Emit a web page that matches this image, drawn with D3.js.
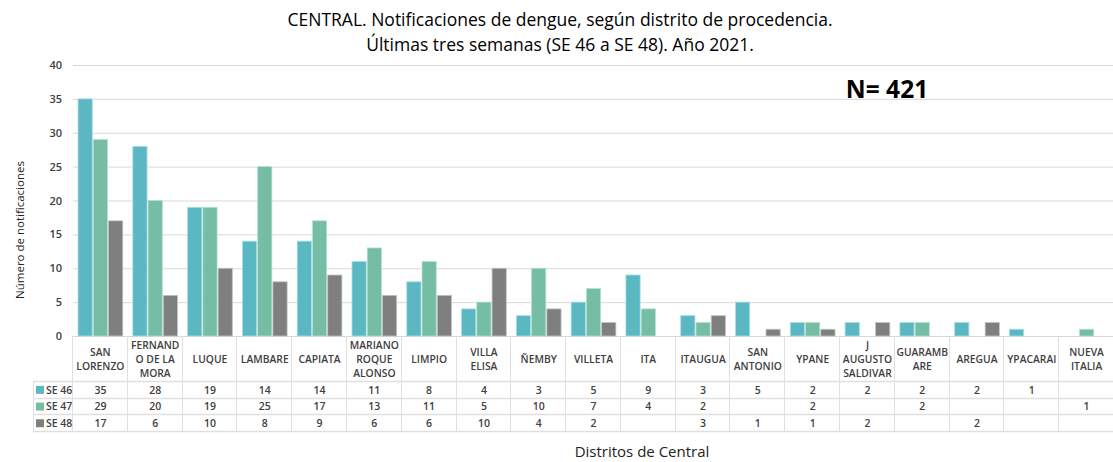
<!DOCTYPE html>
<html>
<head>
<meta charset="utf-8">
<script src="https://cdn.jsdelivr.net/npm/d3@7"></script>
<style>
  body { margin: 0; background: #fff; }
  svg { display: block; font-family: "Open Sans", "Noto Sans", sans-serif; }
</style>
</head>
<body>
<svg id="chart" width="1113" height="462"></svg>
<script>
// districts (header text already broken in lines like the original)
var districts = [
  ["SAN", "LORENZO"], ["FERNAND", "O DE LA", "MORA"], ["LUQUE"], ["LAMBARE"], ["CAPIATA"],
  ["MARIANO", "ROQUE", "ALONSO"], ["LIMPIO"], ["VILLA", "ELISA"], ["ÑEMBY"], ["VILLETA"],
  ["ITA"], ["ITAUGUA"], ["SAN", "ANTONIO"], ["YPANE"], ["J", "AUGUSTO", "SALDIVAR"],
  ["GUARAMB", "ARE"], ["AREGUA"], ["YPACARAI"], ["NUEVA", "ITALIA"]
];
var seriesNames = ["SE 46", "SE 47", "SE 48"];
var se46 = [35, 28, 19, 14, 14, 11, 8, 4, 3, 5, 9, 3, 5, 2, 2, 2, 2, 1, null];
var se47 = [29, 20, 19, 25, 17, 13, 11, 5, 10, 7, 4, 2, null, 2, null, 2, null, null, 1];
var se48 = [17, 6, 10, 8, 9, 6, 6, 10, 4, 2, null, 3, 1, 1, 2, null, 2, null, null];
var yTicks = [0, 5, 10, 15, 20, 25, 30, 35, 40];
var colors = ["#5bb7c2", "#75bda5", "#7f7f7f"];
var strokes = ["#a9e0e6", "#b3e2d1", "#c4c4c4"];

var values = [se46, se47, se48];
var svg = d3.select("#chart");

var left = 73, right = 1114, yTop = 65, yZero = 336;

var x = d3.scaleBand()
  .domain(d3.range(districts.length))
  .range([left, right])
  .paddingInner(0).paddingOuter(0);

var xs = d3.scaleBand()
  .domain(d3.range(3))
  .range([0, x.bandwidth()])
  .paddingOuter(0.33).paddingInner(0.067);

var y = d3.scaleLinear().domain([0, 40]).range([yZero, yTop]);

// gridlines
svg.append("g")
  .selectAll("line").data(yTicks).enter().append("line")
  .attr("x1", left).attr("x2", right)
  .attr("y1", function(d) { return y(d) + 0.5; })
  .attr("y2", function(d) { return y(d) + 0.5; })
  .attr("stroke", "#d9d9d9").attr("stroke-width", 1);

// y axis (labels only)
var yAxis = d3.axisLeft(y).tickValues(yTicks).tickSize(0).tickPadding(11);
var gy = svg.append("g").attr("transform", "translate(" + left + ",0)").call(yAxis);
gy.select(".domain").remove();
gy.selectAll("text")
  .attr("font-size", 11).attr("font-weight", 600).attr("fill", "#404040")
  .attr("font-family", "'Open Sans', sans-serif");

// bars
var groups = svg.append("g").selectAll("g").data(districts).enter().append("g")
  .attr("transform", function(d, i) { return "translate(" + x(i) + ",0)"; });

groups.selectAll("rect")
  .data(function(d, i) {
    return values.map(function(s, k) { return { k: k, v: s[i] }; })
      .filter(function(e) { return e.v != null; });
  })
  .enter().append("rect")
  .attr("x", function(d) { return xs(d.k); })
  .attr("width", xs.bandwidth())
  .attr("y", function(d) { return y(d.v); })
  .attr("height", function(d) { return yZero - y(d.v); })
  .attr("fill", function(d) { return colors[d.k]; })
  .attr("stroke", function(d) { return strokes[d.k]; })
  .attr("stroke-width", 0.8);

// data table
var headTop = yZero, headBottom = 381;
var rowH = 16.7;
var tableBottom = headBottom + rowH * 3;
var legendLeft = 33;
var table = svg.append("g");
var lineColor = "#e0e0e0";

// vertical lines
table.selectAll("line.v").data(d3.range(districts.length + 1)).enter().append("line")
  .attr("class", "v")
  .attr("x1", function(i) { return Math.round(i < districts.length ? x(i) : right) - 0.5; })
  .attr("x2", function(i) { return Math.round(i < districts.length ? x(i) : right) - 0.5; })
  .attr("y1", headTop).attr("y2", tableBottom)
  .attr("stroke", lineColor);
table.append("line")
  .attr("x1", legendLeft + 0.5).attr("x2", legendLeft + 0.5)
  .attr("y1", headBottom).attr("y2", tableBottom).attr("stroke", lineColor);

// horizontal lines
table.selectAll("line.h").data(d3.range(4)).enter().append("line")
  .attr("class", "h")
  .attr("x1", legendLeft).attr("x2", right)
  .attr("y1", function(r) { return Math.round(headBottom + r * rowH) + 0.5; })
  .attr("y2", function(r) { return Math.round(headBottom + r * rowH) + 0.5; })
  .attr("stroke", lineColor).attr("stroke-width", 1.5);

// header labels
var headMid = (headTop + headBottom) / 2 + 1;
table.selectAll("text.head").data(districts).enter().append("text")
  .attr("class", "head")
  .attr("text-anchor", "middle")
  .attr("font-size", 10.3).attr("font-weight", 600).attr("fill", "#404040")
  .each(function(d, i) {
    var t = d3.select(this);
    var lh = 14;
    var y0 = headMid - (d.length - 1) * lh / 2;
    d.forEach(function(line, j) {
      t.append("tspan")
        .attr("x", x(i) + x.bandwidth() / 2)
        .attr("y", y0 + j * lh)
        .attr("dy", "0.35em")
        .text(line);
    });
  });

// series rows
seriesNames.forEach(function(name, k) {
  var cy = headBottom + rowH * k + rowH / 2 + 0.5;
  table.append("rect")
    .attr("x", legendLeft + 3).attr("y", cy - 4).attr("width", 8).attr("height", 8)
    .attr("fill", colors[k]);
  table.append("text")
    .attr("x", legendLeft + 13).attr("y", cy).attr("dy", "0.35em")
    .attr("font-size", 10.5).attr("font-weight", 600).attr("fill", "#404040")
    .text(name);
  table.selectAll("text.v" + k).data(values[k]).enter().append("text")
    .attr("x", function(d, i) { return x(i) + x.bandwidth() / 2; })
    .attr("y", cy).attr("dy", "0.35em")
    .attr("text-anchor", "middle")
    .attr("font-size", 10.5).attr("font-weight", 600).attr("fill", "#404040")
    .text(function(d) { return d == null ? "" : d; });
});

// titles
svg.append("text")
  .attr("x", 560).attr("y", 20).attr("dy", "0.35em").attr("text-anchor", "middle")
  .attr("font-size", 17.5).attr("font-weight", 500).attr("fill", "#000")
  .text("CENTRAL. Notificaciones de dengue, según distrito de procedencia.");
svg.append("text")
  .attr("x", 560).attr("y", 45).attr("dy", "0.35em").attr("text-anchor", "middle")
  .attr("font-size", 17.5).attr("font-weight", 500).attr("fill", "#000")
  .text("Últimas tres semanas (SE 46 a SE 48). Año 2021.");

svg.append("text")
  .attr("x", 887).attr("y", 89).attr("dy", "0.35em").attr("text-anchor", "middle")
  .attr("font-size", 24.5).attr("font-weight", 700).attr("fill", "#000")
  .attr("font-family", "'Open Sans', sans-serif")
  .text("N= 421");

svg.append("text")
  .attr("transform", "translate(20,230) rotate(-90)")
  .attr("text-anchor", "middle").attr("dy", "0.35em")
  .attr("font-size", 11.5).attr("fill", "#222")
  .text("Número de notificaciones");

svg.append("text")
  .attr("x", 642).attr("y", 452).attr("dy", "0.35em").attr("text-anchor", "middle")
  .attr("font-size", 15).attr("font-weight", 500).attr("fill", "#222")
  .text("Distritos de Central");
</script>
</body>
</html>
